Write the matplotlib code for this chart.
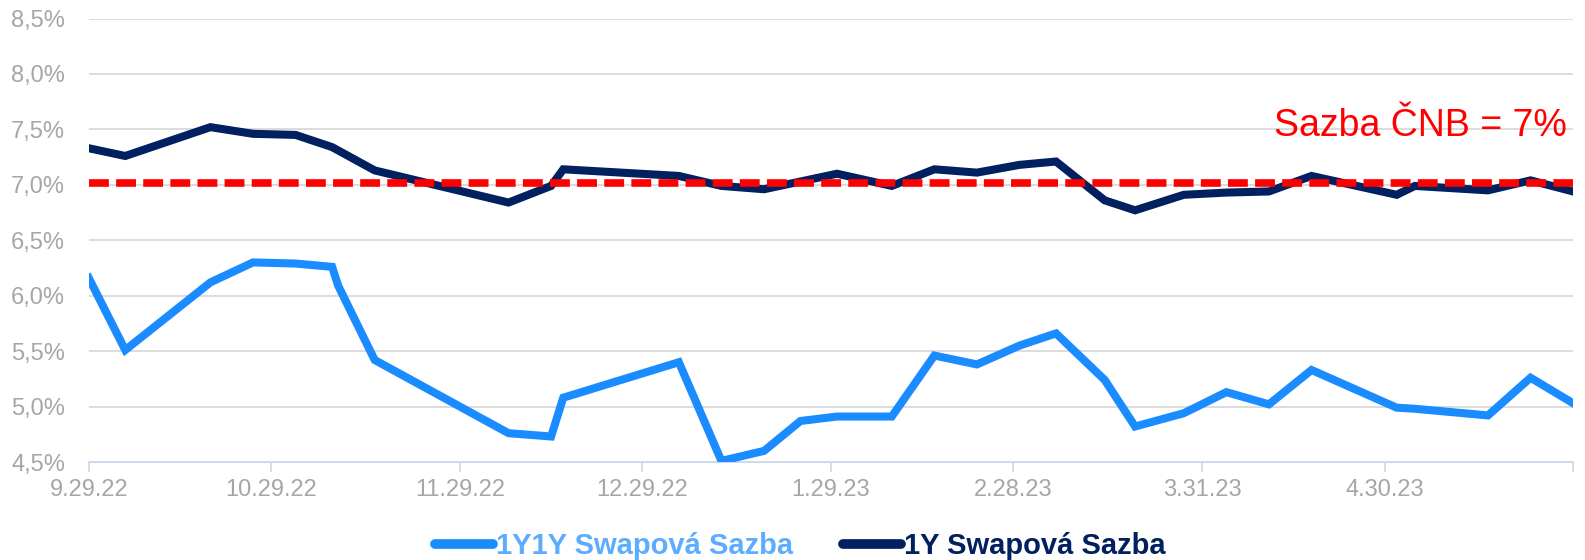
import matplotlib
matplotlib.use("Agg")
import matplotlib.pyplot as plt
import pandas as pd

plt.rcParams['font.family'] = ['Liberation Sans', 'DejaVu Sans']

# Observation dates and swap rates (%)
dates = pd.to_datetime([
    "2022-09-29", "2022-10-05", "2022-10-19", "2022-10-26", "2022-11-02",
    "2022-11-08", "2022-11-09", "2022-11-15", "2022-12-07", "2022-12-14",
    "2022-12-16", "2023-01-04", "2023-01-11", "2023-01-18", "2023-01-24",
    "2023-01-30", "2023-02-08", "2023-02-15", "2023-02-22", "2023-03-01",
    "2023-03-07", "2023-03-15", "2023-03-20", "2023-03-28", "2023-04-04",
    "2023-04-11", "2023-04-18", "2023-05-02", "2023-05-05", "2023-05-17",
    "2023-05-24", "2023-05-31",
])
swap_1y1y = [6.16, 5.51, 6.12, 6.30, 6.29, 6.26, 6.09, 5.42, 4.76, 4.73,
             5.08, 5.40, 4.51, 4.60, 4.87, 4.91, 4.91, 5.46, 5.38, 5.55,
             5.66, 5.24, 4.82, 4.94, 5.13, 5.02, 5.33, 4.99, 4.98, 4.92,
             5.26, 5.03]
swap_1y = [7.33, 7.26, 7.52, 7.46, 7.45, 7.34, 7.31, 7.13, 6.84, 6.99,
           7.14, 7.08, 6.99, 6.96, 7.03, 7.10, 6.99, 7.14, 7.11, 7.18,
           7.21, 6.86, 6.77, 6.91, 6.93, 6.94, 7.08, 6.91, 6.99, 6.95,
           7.04, 6.94]
cnb_rate = 7.02

tick_dates = pd.to_datetime(["2022-09-29", "2022-10-29", "2022-11-29", "2022-12-29",
                             "2023-01-29", "2023-02-28", "2023-03-31", "2023-04-30",
                             "2023-05-31"])
tick_labels = ["9.29.22", "10.29.22", "11.29.22", "12.29.22",
               "1.29.23", "2.28.23", "3.31.23", "4.30.23", ""]
y_ticks = [4.5, 5.0, 5.5, 6.0, 6.5, 7.0, 7.5, 8.0, 8.5]

light = "#1A8CFF"
dark = "#002060"
grey = "#A6A6A6"

fig = plt.figure(figsize=(15.85, 5.6), dpi=100)
ax = fig.add_axes([0.056, 1 - 462 / 560, 0.9365, (462 - 18.5) / 560])

ax.plot(dates, swap_1y1y, color=light, lw=5.8, label="1Y1Y Swapová Sazba",
        solid_joinstyle="miter", zorder=3)
ax.plot(dates, swap_1y, color=dark, lw=5.8, label="1Y Swapová Sazba",
        solid_joinstyle="miter", zorder=3)
ax.axhline(cnb_rate, color="#FF0000", lw=5.5, dashes=(2.6, 0.95), zorder=4)

ax.text(pd.Timestamp("2023-05-30"), 7.44, "Sazba ČNB = 7%", color="#FF0000",
        fontsize=27, ha="right", va="baseline", zorder=5)

ax.set_xlim(dates[0], dates[-1])
ax.set_ylim(4.5, 8.5)
ax.set_yticks(y_ticks)
ax.set_yticklabels([f"{v:.1f}%".replace(".", ",") for v in y_ticks])
ax.set_xticks(tick_dates)
ax.set_xticklabels(tick_labels)

ax.grid(axis="y", color="#D9D9D9", lw=1.3)
ax.set_axisbelow(True)
for s in ["top", "right", "left"]:
    ax.spines[s].set_visible(False)
ax.spines["bottom"].set_color("#D0D8EC")
ax.spines["bottom"].set_linewidth(1.5)
ax.tick_params(axis="y", length=0, pad=17, labelsize=17, labelcolor=grey)
ax.tick_params(axis="x", length=7, width=1.3, color="#D0D8EC", pad=5,
               labelsize=17, labelcolor=grey)

leg = fig.legend(loc="center", bbox_to_anchor=(0.505, 1 - 546 / 560), ncol=2,
                 frameon=False, handlelength=2.0, handletextpad=0.1,
                 columnspacing=1.7, borderpad=0, prop={"weight": "bold", "size": 21})
for t, c in zip(leg.get_texts(), ["#5CADFF", dark]):
    t.set_color(c)
for h in leg.get_lines():
    h.set_linewidth(7)
    h.set_solid_capstyle("round")

fig.savefig("out.png", dpi=100)
